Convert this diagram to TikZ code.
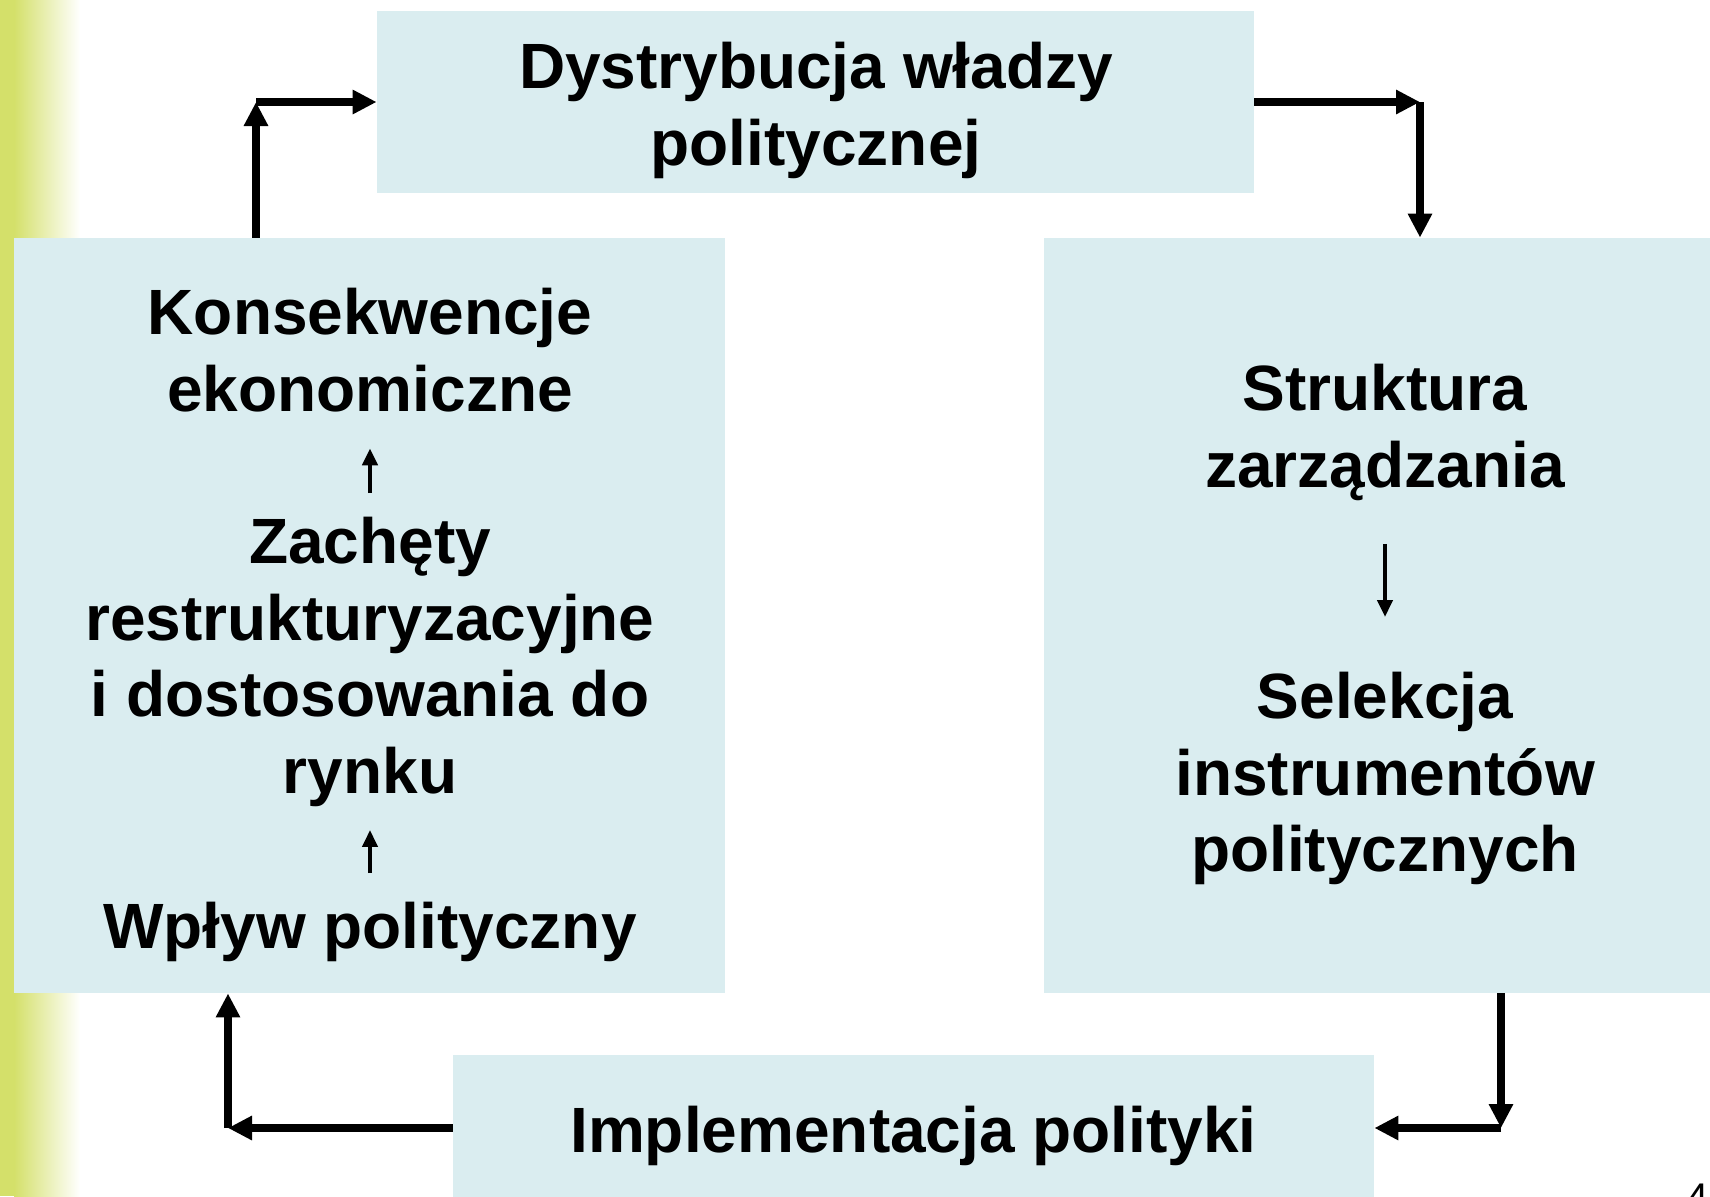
\documentclass[tikz,border=0pt]{standalone}
\usepackage{fontspec}
\setmainfont{Liberation Sans}
\usetikzlibrary{arrows.meta}
\definecolor{boxblue}{RGB}{218,237,240}
\definecolor{stripgreen}{RGB}{212,224,106}
\begin{document}
\begin{tikzpicture}[x=0.5pt, y=-0.5pt, line join=miter,
  font=\fontsize{32pt}{38.25pt}\selectfont\bfseries,
  box/.style={fill=boxblue, inner sep=0pt, align=center},
  txt/.style={inner sep=0pt, align=center, anchor=north},
  arr/.style={line width=3.75pt, -{Triangle[width=11.5pt,length=12pt]}},
  arrm/.style={line width=2.25pt, -{Triangle[width=7.5pt,length=8.5pt]}}]
 \useasboundingbox (0,0) rectangle (1710,1196);
 % pasek z lewej
 \fill[stripgreen] (0,0) rectangle (14,1196);
 \shade[left color=stripgreen, right color=white] (14,0) rectangle (80,1196);
 % pola
 \node[box, minimum width=438.5pt, minimum height=91pt] (dystr) at (815.5,102) {};
 \node[box, minimum width=355.5pt, minimum height=377.5pt] (lewy) at (369.5,615.5) {};
 \node[box, minimum width=338pt, minimum height=377.5pt] (prawy) at (1382,615.5) {};
 \node[box, minimum width=460.5pt, minimum height=81pt] (impl) at (913.5,1136) {Implementacja polityki};
 % teksty w polach
 \node[txt] (dystrtxt) at (816,42) {Dystrybucja władzy\\politycznej};
 \node[txt] (kons) at (370,288) {Konsekwencje\\ekonomiczne};
 \node[txt] (zach) at (370,517) {Zachęty\\restrukturyzacyjne\\i dostosowania do\\rynku};
 \node[txt] (wplyw) at (370,902) {Wpływ polityczny};
 \node[txt] (strukt) at (1385,364) {Struktura\\zarządzania};
 \node[txt] (selek) at (1385,672) {Selekcja\\instrumentów\\politycznych};
 \draw[arrm, shorten <=12pt, shorten >=18pt] (zach) -- (kons);
 \draw[arrm, shorten <=14.5pt, shorten >=11.5pt] (wplyw) -- (zach);
 \draw[arrm, shorten <=21.5pt, shorten >=27.5pt] (strukt) -- (selek);
 % obieg
 \coordinate (lg) at (256,102);
 \coordinate (pg) at (1420,102);
 \coordinate (pd) at (1501,1128);
 \coordinate (ld) at (228,1128);
 \draw[arr] (lewy.north -| lg) -- (lg);
 \draw[arr] (lg) -- (dystr.west);
 \draw[arr] (dystr.east) -- (pg);
 \draw[arr] (pg) -- (pg |- prawy.north);
 \draw[arr] (prawy.south -| pd) -- (pd);
 \draw[arr] (pd) -- (impl.east |- pd);
 \draw[arr] (impl.west |- ld) -- (ld);
 \draw[arr] (ld) -- (lewy.south -| ld);
 \node[inner sep=0pt, anchor=base west, font=\fontsize{20pt}{24pt}\selectfont] (nr) at (1686,1211) {4};
\end{tikzpicture}
\end{document}
